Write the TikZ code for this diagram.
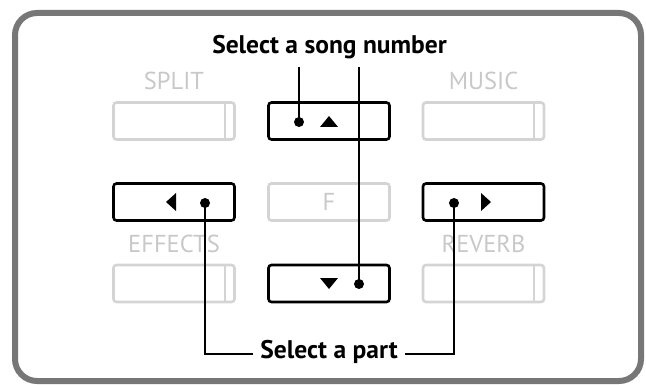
\documentclass[tikz,border=0pt]{standalone}
\usepackage{fontspec}
\setmainfont{PT Sans}
\usetikzlibrary{calc}
\definecolor{framegray}{HTML}{777777}
\definecolor{boxgray}{HTML}{D4D4D4}
\definecolor{lblgray}{HTML}{C8C8C8}
\tikzset{
  btn/.style={draw=black, line width=2.6pt, rounded corners=3pt, minimum width=121pt, minimum height=37pt, inner sep=0pt},
  gbox/.style={draw=boxgray, line width=2.6pt, rounded corners=3pt, minimum width=121pt, minimum height=37pt, inner sep=0pt, text=lblgray, font=\fontsize{24.5}{24.5}\selectfont},
  glabel/.style={text=lblgray, inner sep=0pt, font=\fontsize{24.5}{24.5}\selectfont},
  blabel/.style={text=black, inner sep=0pt, font=\bfseries\fontsize{25.5}{25.5}\selectfont},
  conn/.style={draw=black, line width=1.5pt},
  dotmark/.style={circle, fill=black, minimum size=10pt, inner sep=0pt},
  tri/.style={fill=black},
}
\begin{document}
\begin{tikzpicture}[x=1pt,y=-1pt]
\useasboundingbox (0,0) rectangle (646,385);
% frame
\draw[framegray, line width=6pt, rounded corners=22pt] (15,13) rectangle (641,381);

% gray boxes
\node[gbox] (split) at (174,121) {};
\node[gbox] (music) at (483.5,121) {};
\node[gbox] (effects) at (174,283.5) {};
\node[gbox] (reverb) at (483.5,283.5) {};
\node[gbox] (fbox) at (329,202) {F};
\foreach \b in {split,music,effects,reverb}{
  \draw[boxgray, line width=2.2pt] ($(\b.north east)+(-11,0)$) -- ($(\b.south east)+(-11,0)$);
}
% gray labels
\node[glabel] (splitlbl) at (174,81) {SPLIT};
\node[glabel] (musiclbl) at (483.5,81) {MUSIC};
\node[glabel] (effectslbl) at (174,244) {EFFECTS};
\node[glabel] (reverblbl) at (483.5,244) {REVERB};

% black buttons
\node[btn] (up) at (329,121) {};
\node[btn] (down) at (329,283.5) {};
\node[btn] (left) at (174,202) {};
\node[btn] (right) at (483.5,202) {};

% triangles
\fill[tri] (320,127) -- (338,127) -- (329,116) -- cycle;
\fill[tri] (320,278) -- (338,278) -- (329,289) -- cycle;
\fill[tri] (176,193) -- (176,211) -- (166,202) -- cycle;
\fill[tri] (481,193) -- (481,211) -- (491,202) -- cycle;

% dots
\node[dotmark] (updot) at (299,122) {};
\node[dotmark] (downdot) at (359,284) {};
\node[dotmark] (leftdot) at (205,203) {};
\node[dotmark] (rightdot) at (454,203) {};

% labels
\node[blabel] (songlbl) at (329.5,47) {Select a song number};
\node[blabel] (partlbl) at (329,352) {Select a part};

\coordinate (s1) at (299,67);
\coordinate (s2) at (359,67);
\coordinate (p1) at (253,354);
\coordinate (p2) at (405,354);

\draw[conn] (s1) -- (updot.center);
\draw[conn] (s2) -- (downdot.center);
\draw[conn] (p1) -- (p1 -| leftdot) -- (leftdot.center);
\draw[conn] (p2) -- (p2 -| rightdot) -- (rightdot.center);
\end{tikzpicture}
\end{document}
